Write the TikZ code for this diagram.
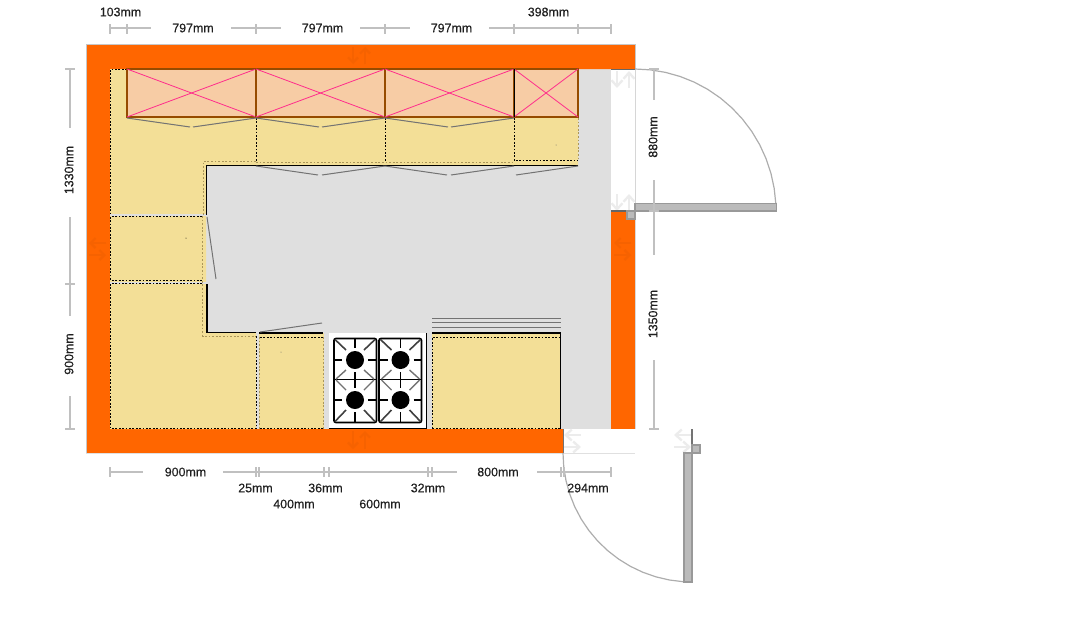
\documentclass[tikz,border=0pt]{standalone}
\usepackage{fontspec}
\setmainfont{Liberation Sans}
\newfontfamily\dimfont[FakeBold=0.25]{Liberation Sans}
\usetikzlibrary{arrows.meta}
\definecolor{wallorange}{RGB}{255,102,0}
\definecolor{wallarrow}{RGB}{246,98,0}
\definecolor{floorgrey}{RGB}{223,223,223}
\definecolor{unityellow}{RGB}{243,223,151}
\definecolor{wallunit}{RGB}{247,204,165}
\definecolor{unitbrown}{RGB}{150,75,0}
\definecolor{crosspink}{RGB}{255,45,140}
\definecolor{dimgrey}{RGB}{192,192,192}
\definecolor{doorgrey}{RGB}{187,187,187}
\definecolor{doorline}{RGB}{153,153,153}
\definecolor{tandash}{RGB}{170,150,90}
\definecolor{openarrow}{RGB}{236,236,236}
\tikzset{
  dimlabel/.style={inner sep=0pt, font=\dimfont\fontsize{12.4}{14}\selectfont, text=black!88},
  dimline/.style={draw=dimgrey, line width=2.2pt},
  dimtick/.style={draw=dimgrey, line width=1.8pt},
  unitdots/.style={draw=black, line width=1pt, dash pattern=on 1.8pt off 1.6pt},
  tandots/.style={draw=tandash, line width=0.9pt, dash pattern=on 1.8pt off 1.8pt},
  solidedge/.style={draw=black, line width=1.5pt},
  swingline/.style={draw=black!55, line width=1pt},
  wallbox/.style={fill=wallunit, draw=unitbrown, line width=1.6pt},
  crossline/.style={draw=crosspink, line width=0.8pt},
  doorpanel/.style={fill=doorgrey, draw=doorline, line width=1.5pt},
  doorarc/.style={draw=black!32, line width=1.2pt},
  wallmark/.style={draw=wallarrow, line width=2.2pt, -{Straight Barb[length=5pt,width=10pt]}},
  openmark/.style={draw=openarrow, line width=2.4pt, -{Straight Barb[length=6pt,width=11pt]}},
}
\begin{document}
\begin{tikzpicture}[x=1pt, y=-1pt]
\useasboundingbox (0,0) rectangle (1066,627);

% FLOOR
\fill [floorgrey] (110,69) rectangle (611,429);

% WALLS
\fill [wallorange] (86,44) -- (635,44) -- (635,69) -- (110,69) -- (110,429) -- (563,429) -- (563,453) -- (86,453) -- cycle;
\fill [wallorange] (611,211) rectangle (635,429);
\draw [black!22, line width=0.8pt] (86,453) -- (86,44) -- (635,44) -- (635,69);
\draw [black!12, line width=0.8pt] (86,453) -- (635,453);
\draw [black!15, line width=0.8pt] (635,69) -- (635,429);

% BASE UNITS
\fill [unityellow] (110,69) -- (578,69) -- (578,166) -- (206,166) -- (206,333) -- (256,333) -- (256,429) -- (110,429) -- cycle;
\fill [unityellow] (259,333) rectangle (324,429);
\fill [unityellow] (432,333) rectangle (561,429);
\draw [floorgrey, line width=2pt] (110,215) -- (207,215);
\draw [floorgrey, line width=2pt] (110,282.5) -- (207,282.5);

% DASHED FRONTS
\draw [tandots] (256,161.5) -- (203,161.5) -- (203,215);
\draw [tandots] (256,162) -- (514,162);
\draw [tandots] (578,118) -- (578,160);
\draw [tandots] (202.5,216) -- (202.5,336) -- (256,336);
\draw [tandots] (259.5,337) -- (259.5,429);
\draw [tandots] (323.5,337) -- (323.5,429);

% UNIT OUTLINES
\draw [unitdots] (127,69.5) -- (110.5,69.5) -- (110.5,214);
\draw [unitdots] (202,216.5) -- (110.5,216.5) -- (110.5,280) -- (202,280);
\draw [unitdots] (202,283.5) -- (110.5,283.5) -- (110.5,428.5) -- (256,428.5) -- (256,336);
\draw [unitdots] (256,118) -- (256,162);
\draw [unitdots] (385,118) -- (385,162);
\draw [unitdots] (514,118) -- (514,160.5) -- (577,160.5);
\draw [unitdots] (260,337) -- (323,337);
\draw [unitdots] (260,428.5) -- (323,428.5);
\draw [unitdots] (432.5,428.5) -- (432.5,337) -- (560,337);
\draw [unitdots] (432.5,428.5) -- (560.5,428.5);

% WORKTOP EDGES
\draw [solidedge] (578,165.5) -- (206.5,165.5) -- (206.5,215);
\draw [solidedge] (207,284) -- (207,332.5) -- (256,332.5);
\draw [solidedge] (259,333) -- (323,333);
\draw [solidedge] (432,333) -- (560.5,333) -- (560.5,429);

% WALL UNITS
\foreach \ux/\uw in {127/129, 256/129, 385/129, 514/64} {
  \draw [wallbox] (\ux,69) rectangle ++(\uw,48);
  \draw [crossline] (\ux,69) -- ++(\uw,48);
  \draw [crossline] (\ux,117) -- ++(\uw,-48);
}
\draw [black, line width=1pt] (514.5,69) -- (514.5,117);

% DOOR SWINGS
\foreach \sx in {127,256,385} {
  \draw [swingline] (\sx,118) -- ++(63,9);
  \draw [swingline] (\sx+66,127) -- ++(63,-9);
}
\foreach \sx in {256,385} {
  \draw [swingline] (\sx,166) -- ++(62,9);
  \draw [swingline] (\sx+66,175) -- ++(63,-9);
}
\draw [swingline] (516,175) -- (578,166);
\draw [swingline] (207,217) -- (216,279);
\draw [swingline] (260,332) -- (322,323);
\foreach \dy in {318,322.5,327} {
  \draw [swingline] (432,\dy) -- (561,\dy);
}
\fill (186,238) circle (0.5);
\fill [black!60] (281,352) circle (0.5);
\fill [black!60] (556,145) circle (0.5);

% COOKER
\fill [white] (329,333) rectangle (426,429);
\draw [black, line width=1.6pt] (426.5,333) -- (426.5,428.5) -- (329,428.5);
\foreach \gx in {334,379} {
  \draw [black, line width=1.7pt, rounded corners=2pt] (\gx,338.5) rectangle ++(42.5,84);
  \draw [black, line width=1.7pt] (\gx,379.5) -- ++(42.5,0);
}
\foreach \bx in {355,400.5} {
  \foreach \by in {360,400} {
    \fill (\bx,\by) circle (9);
    \draw [black, line width=1.7pt] (\bx-21,\by) -- ++(8,0);
    \draw [black, line width=1.7pt] (\bx+13,\by) -- ++(8,0);
  }
  \draw [black, line width=1.7pt] (\bx,339) -- ++(0,9);
  \draw [black, line width=1.7pt] (\bx,372) -- ++(0,16);
  \draw [black, line width=1.7pt] (\bx,412) -- ++(0,10);
  \foreach \sgn in {-1,1} {
    \draw [black!75, line width=1.6pt] (\bx+\sgn*20,339.5) -- (\bx+\sgn*9,350);
    \draw [black!55, line width=1.4pt] (\bx+\sgn*9,370) -- (\bx+\sgn*19,379);
    \draw [black!55, line width=1.4pt] (\bx+\sgn*19,380) -- (\bx+\sgn*9,390);
    \draw [black!75, line width=1.6pt] (\bx+\sgn*9,410) -- (\bx+\sgn*20,421.5);
  }
}

% WALL ARROWS
\draw [wallmark] (353,47) -- (353,64);
\draw [wallmark] (365,64) -- (365,47);
\draw [wallmark] (353,431) -- (353,449);
\draw [wallmark] (365,449) -- (365,431);
\draw [wallmark] (106,243) -- (89,243);
\draw [wallmark] (89,255) -- (106,255);
\draw [wallmark] (631,243) -- (614,243);
\draw [wallmark] (614,255) -- (631,255);

% OPENINGS
\draw [openmark] (617,71) -- (617,88);
\draw [openmark] (629,88) -- (629,71);
\draw [openmark] (617,194) -- (617,211);
\draw [openmark] (629,211) -- (629,194);
\draw [openmark] (581,435) -- (564,435);
\draw [openmark] (564,447) -- (581,447);
\draw [openmark] (691,435) -- (674,435);
\draw [openmark] (674,447) -- (691,447);

% TOP DOOR
\draw [doorgrey!60, line width=0.7pt] (635,69) -- (635,203);
\draw [black!60, line width=1.2pt] (611,69.5) -- (635,69.5);
\draw [black!60, line width=1.2pt] (611,211) -- (627,211);
\draw [doorarc] plot [domain=3:90, samples=15] ({635+141*cos(\x)},{211-142*sin(\x)});
\draw [doorpanel] (635,203.5) rectangle (776.5,211);
\draw [doorpanel] (627,211) rectangle (635,219);

% BOTTOM DOOR
\draw [black!55, line width=1.2pt] (563.5,429) -- (563.5,453);
\draw [black!55, line width=1.2pt] (692,429) -- (692,453);
\draw [doorarc] plot [domain=94:180, samples=15] ({692+129*cos(\x)},{453+129*sin(\x)});
\draw [doorpanel] (684,453) rectangle (692,582);
\draw [doorpanel] (692,445) rectangle (700,453);

% DIMENSIONS TOP
\draw [dimline] (110,28) -- (151,28);
\draw [dimline] (231,28) -- (281,28);
\draw [dimline] (360,28) -- (410,28);
\draw [dimline] (489,28) -- (611,28);
\foreach \tx in {110,127,256,385,514,578,611} {
  \draw [dimtick] (\tx,24) -- (\tx,33.5);
}
\node [dimlabel] (lbl103) at (120.5,12) {103mm};
\node [dimlabel] (lbl797a) at (193,28) {797mm};
\node [dimlabel] (lbl797b) at (322.5,28) {797mm};
\node [dimlabel] (lbl797c) at (451.5,28) {797mm};
\node [dimlabel] (lbl398) at (548.5,12) {398mm};

% DIMENSIONS LEFT
\draw [dimline] (70,69) -- (70,128);
\draw [dimline] (70,217) -- (70,316);
\draw [dimline] (70,396) -- (70,429);
\foreach \ty in {69,284,429} {
  \draw [dimtick] (65,\ty) -- (75,\ty);
}
\node [dimlabel, rotate=90] (lbl1330) at (69,170) {1330mm};
\node [dimlabel, rotate=90] (lbl900a) at (69,354) {900mm};

% DIMENSIONS RIGHT
\draw [dimline] (654,69) -- (654,100);
\draw [dimline] (654,180) -- (654,255);
\draw [dimline] (654,360) -- (654,429);
\foreach \ty in {69,211,429} {
  \draw [dimtick] (649,\ty) -- (659,\ty);
}
\node [dimlabel, rotate=90] (lbl880) at (653,137) {880mm};
\node [dimlabel, rotate=90] (lbl1350) at (653,314) {1350mm};

% DIMENSIONS BOTTOM
\draw [dimline] (110,472) -- (143,472);
\draw [dimline] (223,472) -- (457,472);
\draw [dimline] (537,472) -- (611,472);
\foreach \tx in {110,256,259,324,329,428,432,561,564,611} {
  \draw [dimtick] (\tx,467) -- (\tx,476.5);
}
\node [dimlabel] (lbl900b) at (185.5,472) {900mm};
\node [dimlabel] (lbl25) at (255.5,488) {25mm};
\node [dimlabel] (lbl36) at (325.5,488) {36mm};
\node [dimlabel] (lbl32) at (428,488) {32mm};
\node [dimlabel] (lbl400) at (294,504) {400mm};
\node [dimlabel] (lbl600) at (380,504) {600mm};
\node [dimlabel] (lbl800) at (498,472) {800mm};
\node [dimlabel] (lbl294) at (588,488) {294mm};
\end{tikzpicture}
\end{document}
